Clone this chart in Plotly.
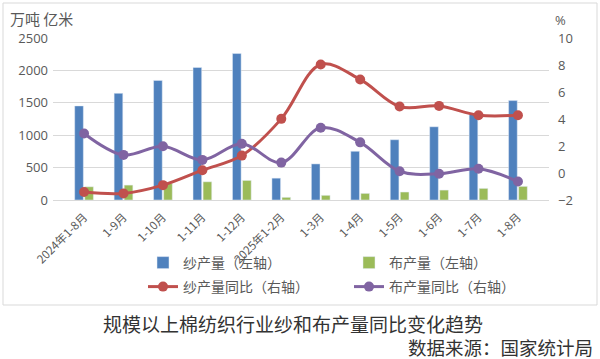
import plotly.graph_objects as go

categories = ["2024年1-8月", "1-9月", "1-10月", "1-11月", "1-12月", "2025年1-2月",
              "1-3月", "1-4月", "1-5月", "1-6月", "1-7月", "1-8月"]
yarn_output = [1452, 1646, 1846, 2045, 2260, 337, 557, 752, 930, 1130, 1324, 1534]
cloth_output = [204, 230, 255, 281, 302, 41, 72, 102, 123, 153, 179, 210]
yarn_yoy = [-1.41, -1.51, -0.90, 0.21, 1.29, 4.01, 8.04, 6.93, 4.92, 4.97, 4.28, 4.28]
cloth_yoy = [2.93, 1.34, 1.98, 0.97, 2.17, 0.77, 3.35, 2.27, 0.13, -0.06, 0.31, -0.63]

W, H = 600, 359
L, R, T, B = 53, 549, 38, 200


def cx(x):
    return x / W


def cy(y):
    return 1 - y / H


FONT = "Noto Sans CJK SC"
GRAY = "#595959"

fig = go.Figure()
fig.add_trace(go.Bar(x=categories, y=yarn_output, name="纱产量（左轴）",
                     marker_color="#4F81BD", yaxis="y", legend="legend"))
fig.add_trace(go.Bar(x=categories, y=cloth_output, name="布产量（左轴）",
                     marker_color="#9BBB59", yaxis="y", legend="legend2"))
fig.add_trace(go.Scatter(x=categories, y=yarn_yoy, name="纱产量同比（右轴）",
                         mode="lines+markers", line=dict(color="#C0504D", width=3, shape="spline", smoothing=1),
                         marker=dict(size=10, color="#C0504D"), yaxis="y2", legend="legend3"))
fig.add_trace(go.Scatter(x=categories, y=cloth_yoy, name="布产量同比（右轴）",
                         mode="lines+markers", line=dict(color="#8064A2", width=3, shape="spline", smoothing=1),
                         marker=dict(size=10, color="#8064A2"), yaxis="y2", legend="legend4"))


def leg(x, y):
    return dict(orientation="h", xref="container", yref="container", x=cx(x), y=cy(y),
                xanchor="left", yanchor="middle", font=dict(size=14, color=GRAY, family=FONT),
                bgcolor="rgba(0,0,0,0)", borderwidth=0)


fig.update_layout(
    width=W, height=H,
    margin=dict(l=L, r=W - R, t=T, b=H - B, autoexpand=False),
    paper_bgcolor="white", plot_bgcolor="white",
    barmode="group", bargap=0.49, bargroupgap=0.14,
    font=dict(family=FONT, color=GRAY),
    xaxis=dict(tickangle=-45, tickfont=dict(size=11.5, color=GRAY, family=FONT), automargin=False,
               showline=True, linecolor="#D9D9D9", linewidth=1, ticks="", showgrid=False,
               ticklabelstandoff=5),
    yaxis=dict(range=[0, 2500], dtick=500, showgrid=True, gridcolor="#D9D9D9", automargin=False,
               tickfont=dict(size=13, color=GRAY, family="Open Sans"), zeroline=False, ticks="",
               ticklabelstandoff=4),
    yaxis2=dict(range=[-2, 10], dtick=2, overlaying="y", side="right", showgrid=False, automargin=False,
                zeroline=False, tickfont=dict(size=13, color=GRAY, family="Open Sans"), ticks="",
                ticklabelstandoff=8),
    legend=leg(143, 263),
    legend2=leg(349, 263),
    legend3=leg(143, 287),
    legend4=leg(349, 287),
    showlegend=True,
)

fig.add_shape(type="rect", xref="paper", yref="paper",
              x0=(3 - L) / (R - L), x1=(597 - L) / (R - L), y0=(B - 305) / (B - T), y1=(B - 3) / (B - T),
              line=dict(color="#D9D9D9", width=1), layer="below")


def ann(text, x, y, xanchor, size, color, family=FONT):
    fig.add_annotation(text=text, xref="paper", yref="paper", x=(x - L) / (R - L), y=(B - y) / (B - T),
                       xanchor=xanchor, yanchor="middle", showarrow=False,
                       font=dict(size=size, color=color, family=family))


ann("万吨 亿米", 8, 19, "left", 15, GRAY)
ann("%", 560, 20, "center", 13, GRAY, "Open Sans")
ann("规模以上棉纺织行业纱和布产量同比变化趋势", 101, 323, "left", 19, "#333333")
ann("数据来源：国家统计局", 595, 347, "right", 18.5, "#333333")

fig.write_html("out.html", config={"displayModeBar": False},
               post_script="document.body.style.margin='0';")
